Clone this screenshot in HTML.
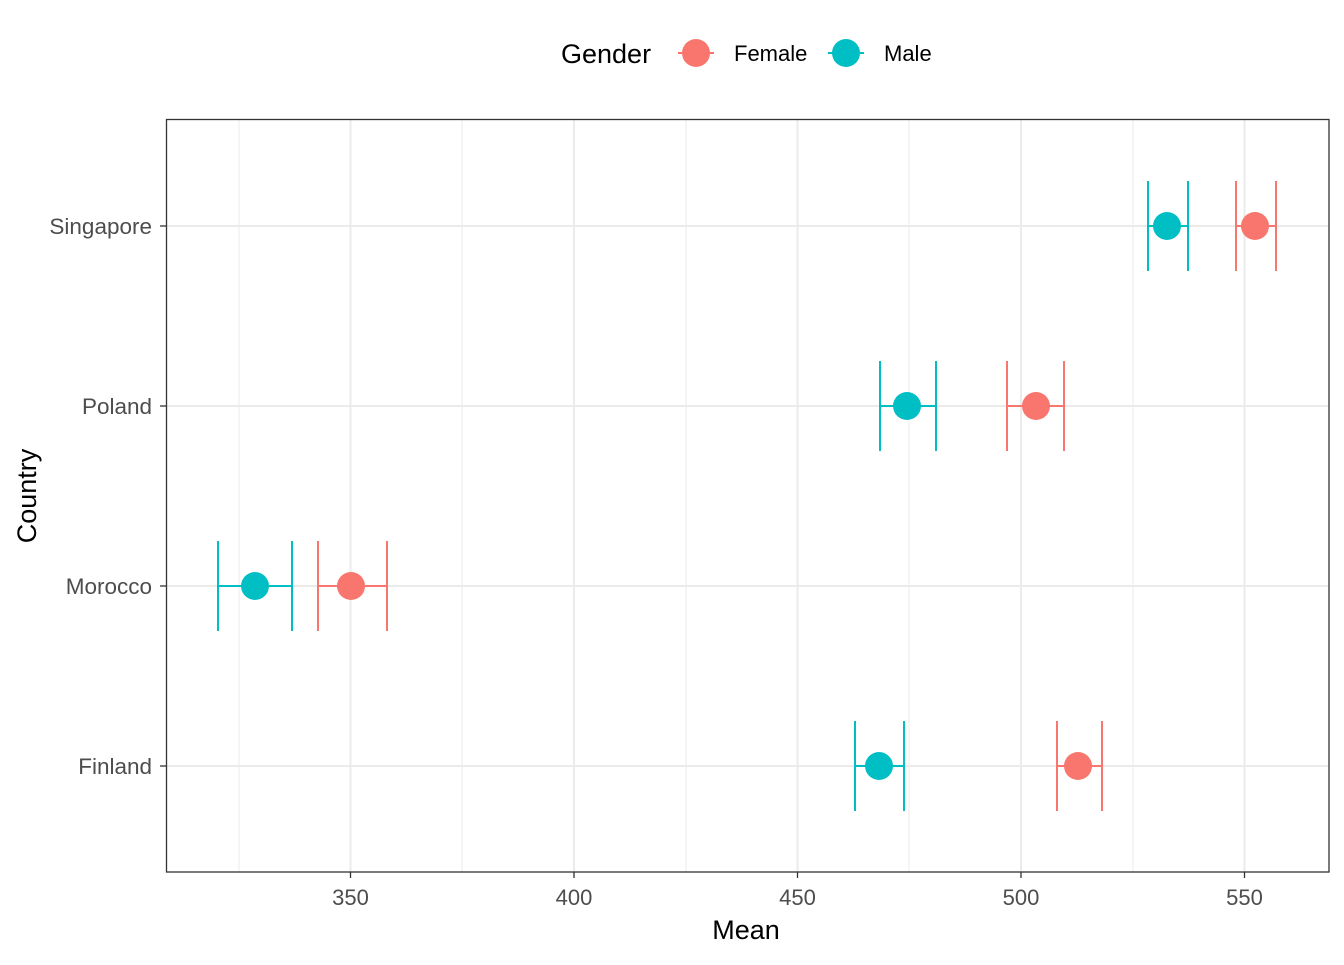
<!DOCTYPE html>
<html><head><style>body{margin:0;background:#fff}</style></head><body>
<svg width="1344" height="960" xmlns="http://www.w3.org/2000/svg" font-family="Liberation Sans, sans-serif">
<rect width="1344" height="960" fill="#fff"/>
<g stroke="#EBEBEB" stroke-width="1">
<line x1="239" y1="119" x2="239" y2="872"/><line x1="462" y1="119" x2="462" y2="872"/><line x1="686" y1="119" x2="686" y2="872"/><line x1="909" y1="119" x2="909" y2="872"/><line x1="1133" y1="119" x2="1133" y2="872"/>
</g>
<g stroke="#EBEBEB" stroke-width="2">
<line x1="350.5" y1="119" x2="350.5" y2="872"/><line x1="574" y1="119" x2="574" y2="872"/><line x1="797.5" y1="119" x2="797.5" y2="872"/><line x1="1021" y1="119" x2="1021" y2="872"/><line x1="1244.5" y1="119" x2="1244.5" y2="872"/>
<line x1="166" y1="226" x2="1329" y2="226"/><line x1="166" y1="406" x2="1329" y2="406"/><line x1="166" y1="586" x2="1329" y2="586"/><line x1="166" y1="766" x2="1329" y2="766"/>
</g>
<g stroke-width="2" fill="none">
<g stroke="#00BFC4">
<path d="M1148 181V271M1188 181V271M1148 226H1188"/>
<path d="M880 361V451M936 361V451M880 406H936"/>
<path d="M218 541V631M292 541V631M218 586H292"/>
<path d="M855 721V811M904 721V811M855 766H904"/>
</g>
<g stroke="#F8766D">
<path d="M1236 181V271M1276 181V271M1236 226H1276"/>
<path d="M1007 361V451M1064 361V451M1007 406H1064"/>
<path d="M318 541V631M387 541V631M318 586H387"/>
<path d="M1057 721V811M1102 721V811M1057 766H1102"/>
</g>
</g>
<g fill="#00BFC4"><circle cx="1167" cy="226" r="14"/><circle cx="907" cy="406" r="14"/><circle cx="255" cy="586" r="14"/><circle cx="879" cy="766" r="14"/></g>
<g fill="#F8766D"><circle cx="1255" cy="226" r="14"/><circle cx="1036" cy="406" r="14"/><circle cx="351" cy="586" r="14"/><circle cx="1078" cy="766" r="14"/></g>
<rect x="166.5" y="119.5" width="1162.5" height="752.5" fill="none" stroke="#333" stroke-width="1.3"/>
<g stroke="#333" stroke-width="1.3">
<line x1="160" y1="226" x2="166" y2="226"/><line x1="160" y1="406" x2="166" y2="406"/><line x1="160" y1="586" x2="166" y2="586"/><line x1="160" y1="766" x2="166" y2="766"/>
<line x1="350.5" y1="872" x2="350.5" y2="878"/><line x1="574" y1="872" x2="574" y2="878"/><line x1="797.5" y1="872" x2="797.5" y2="878"/><line x1="1021" y1="872" x2="1021" y2="878"/><line x1="1244.5" y1="872" x2="1244.5" y2="878"/>
</g>
<g font-size="22.5" fill="#4D4D4D" text-anchor="end">
<text x="152" y="234">Singapore</text><text x="152" y="414">Poland</text><text x="152" y="594">Morocco</text><text x="152" y="774">Finland</text>
</g>
<g font-size="22" fill="#4D4D4D" text-anchor="middle">
<text x="350.5" y="905">350</text><text x="574" y="905">400</text><text x="797.5" y="905">450</text><text x="1021" y="905">500</text><text x="1244.5" y="905">550</text>
</g>
<text x="746" y="939" font-size="27" text-anchor="middle" fill="#000">Mean</text>
<text transform="translate(36,496) rotate(-90)" font-size="27" text-anchor="middle" fill="#000">Country</text>
<text x="561" y="63" font-size="27" fill="#000">Gender</text>
<line x1="678" y1="53" x2="714" y2="53" stroke="#F8766D" stroke-width="2"/><circle cx="696" cy="53" r="14" fill="#F8766D"/>
<text x="734" y="61" font-size="22" fill="#000">Female</text>
<line x1="828" y1="53" x2="864" y2="53" stroke="#00BFC4" stroke-width="2"/><circle cx="846" cy="53" r="14" fill="#00BFC4"/>
<text x="884" y="61" font-size="22" fill="#000">Male</text>
</svg>
</body></html>
